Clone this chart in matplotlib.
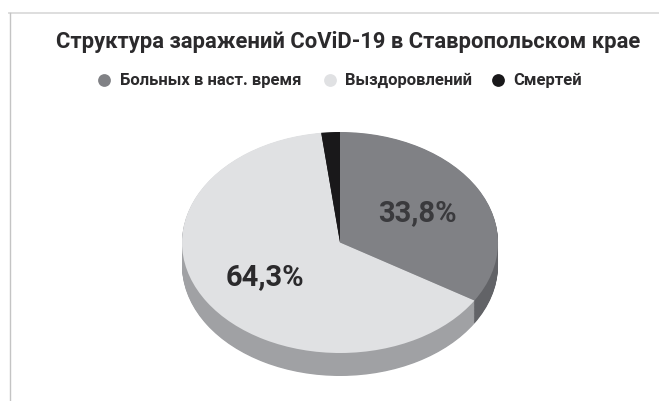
import numpy as np
import matplotlib
matplotlib.use("Agg")
import matplotlib.pyplot as plt

FONT = "Roboto"

title = "Структура заражений CoViD-19 в Ставропольском крае"
categories = ["Больных в наст. время", "Выздоровлений", "Смертей"]
values = [33.8, 64.3, 1.9]
value_labels = ["33,8%", "64,3%"]

top_colors = ["#808185", "#e0e1e3", "#19181a"]
side_colors = ["#626367", "#a0a1a4", "#19181a"]
TEXT = "#2b2a2c"
W, H = 659, 401

fig = plt.figure(figsize=(W / 100, H / 100), dpi=100, facecolor="white")

# overlay in pixel coords for the frame and the text
bg = fig.add_axes([0, 0, 1, 1])
bg.set_xlim(0, W)
bg.set_ylim(H, 0)
bg.axis("off")
bg.plot([9, W], [13, 13], color="#dedede", lw=1.4)
bg.plot([9.5, 9.5], [13, H], color="#c4c4c4", lw=1.0)

bg.text(348, 42, title, fontsize=15.8, fontweight="bold", family=FONT, color=TEXT, ha="center", va="center")

legend_marker_x = [104, 330, 498]
legend_text_x = [120, 345, 513]
for cat, col, mx, tx in zip(categories, top_colors, legend_marker_x, legend_text_x):
    bg.plot(mx, 80, "o", ms=9.2, mew=0, color=col)
    bg.text(tx, 80, cat, fontsize=12, fontweight="bold", family=FONT, color=TEXT, ha="left", va="center")

# pie squashed into an ellipse, rim drawn as stacked copies below the top face
left, right, top, bottom = 182, 498, 132, 376
ry = 110.5
depth = (bottom - top) / ry - 2
ax = fig.add_axes([left / W, 1 - bottom / H, (right - left) / W, (bottom - top) / H])
for d in np.linspace(depth, 0.005, 30):
    ax.pie(values, colors=side_colors, startangle=90, counterclock=False, center=(0, -d), radius=1, frame=False)
ax.pie(values, colors=top_colors, startangle=90, counterclock=False, center=(0, 0), radius=1, frame=False)
ax.set_aspect("auto")
ax.set_xlim(-1, 1)
ax.set_ylim(-1 - depth, 1)
ax.axis("off")

bg.set_zorder(2)
bg.patch.set_visible(False)
bg.text(417, 213, value_labels[0], fontsize=21, fontweight="bold", family=FONT, color="#3a3a3d", ha="center", va="center")
bg.text(265, 277, value_labels[1], fontsize=21, fontweight="bold", family=FONT, color=TEXT, ha="center", va="center")

fig.savefig("out.png", dpi=100, facecolor="white")
